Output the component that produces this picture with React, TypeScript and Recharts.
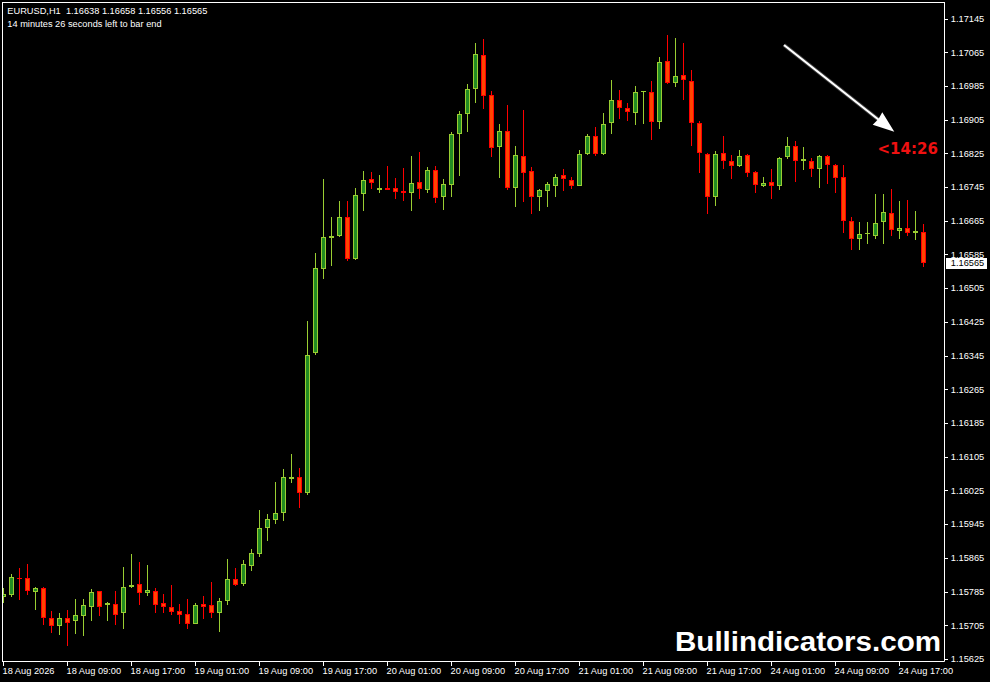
import { BarChart, Bar, XAxis, YAxis } from 'recharts'

// EURUSD H1 candles, oldest first
const opens = [
  1.15772, 1.15778, 1.15817, 1.15817, 1.15785, 1.15793, 1.15722, 1.15704, 1.15722, 1.15714,
  1.15728, 1.15749, 1.15786, 1.15752, 1.15755, 1.15735, 1.15795, 1.15803, 1.15782, 1.15786,
  1.15757, 1.15748, 1.15738, 1.15731, 1.15709, 1.15755, 1.15752, 1.15733, 1.15763, 1.15814,
  1.15804, 1.15846, 1.15875, 1.15937, 1.15956, 1.15972, 1.16053, 1.16056, 1.1602, 1.1635,
  1.1655, 1.16623, 1.1663, 1.16673, 1.16574, 1.16728, 1.16763, 1.16737, 1.16742, 1.16742,
  1.16735, 1.16732, 1.16756, 1.16739, 1.16785, 1.16721, 1.16751, 1.1687, 1.16918, 1.16977,
  1.17058, 1.16963, 1.16841, 1.16877, 1.16743, 1.16818, 1.16782, 1.16722, 1.16736, 1.16748,
  1.16773, 1.16761, 1.16748, 1.16823, 1.16865, 1.16823, 1.16896, 1.16951, 1.16932, 1.1692,
  1.1697, 1.1697, 1.16899, 1.17043, 1.16991, 1.1701, 1.16996, 1.16896, 1.16823, 1.16721,
  1.16825, 1.16806, 1.16794, 1.1682, 1.1678, 1.16747, 1.16756, 1.16747, 1.16816, 1.16842,
  1.16806, 1.16808, 1.16789, 1.16818, 1.16797, 1.16768, 1.16664, 1.16621, 1.16633, 1.1663,
  1.16661, 1.16683, 1.1664, 1.16647, 1.16635, 1.16638,
]
const highs = [
  1.15793, 1.15827, 1.15841, 1.1585, 1.15796, 1.15795, 1.15739, 1.15734, 1.15741, 1.15767,
  1.15767, 1.15791, 1.15787, 1.1576, 1.15786, 1.15843, 1.15874, 1.15855, 1.15848, 1.15793,
  1.15779, 1.15801, 1.15755, 1.15767, 1.15757, 1.15774, 1.15808, 1.1577, 1.15862, 1.15841,
  1.15859, 1.15886, 1.15979, 1.15969, 1.16045, 1.16076, 1.16112, 1.16078, 1.16427, 1.16588,
  1.16764, 1.16674, 1.16712, 1.16712, 1.16742, 1.16783, 1.16781, 1.16774, 1.16795, 1.16766,
  1.1679, 1.16819, 1.16828, 1.16793, 1.16795, 1.16763, 1.16876, 1.16925, 1.16989, 1.17087,
  1.17096, 1.16973, 1.16895, 1.1694, 1.16842, 1.16928, 1.16793, 1.1674, 1.16756, 1.16775,
  1.16787, 1.1677, 1.16832, 1.1687, 1.16887, 1.1692, 1.16998, 1.16975, 1.16944, 1.16984,
  1.16973, 1.16996, 1.17053, 1.17105, 1.17098, 1.17088, 1.17022, 1.16901, 1.16825, 1.1683,
  1.16865, 1.1682, 1.16832, 1.16823, 1.16782, 1.16768, 1.16787, 1.16816, 1.16863, 1.16854,
  1.16839, 1.16813, 1.1682, 1.1682, 1.16799, 1.16797, 1.16673, 1.16661, 1.16661, 1.16728,
  1.16728, 1.1674, 1.16711, 1.16714, 1.16687, 1.16658,
]
const lows = [
  1.15758, 1.15773, 1.15766, 1.15778, 1.15742, 1.15706, 1.15687, 1.15682, 1.15656, 1.15684,
  1.1568, 1.15716, 1.15728, 1.15716, 1.15706, 1.15697, 1.15794, 1.15754, 1.15775, 1.15735,
  1.15733, 1.1573, 1.15709, 1.15697, 1.15708, 1.15721, 1.15723, 1.1569, 1.15754, 1.15799,
  1.15797, 1.15834, 1.15868, 1.15906, 1.15946, 1.15953, 1.16043, 1.15983, 1.16015, 1.16347,
  1.16527, 1.16558, 1.16627, 1.1657, 1.16573, 1.16689, 1.16741, 1.16732, 1.16738, 1.16717,
  1.16713, 1.16689, 1.16717, 1.16732, 1.16706, 1.16691, 1.16722, 1.16772, 1.16876, 1.16945,
  1.16931, 1.16817, 1.16767, 1.16739, 1.16698, 1.1671, 1.16682, 1.16689, 1.16698, 1.16722,
  1.16736, 1.16741, 1.16747, 1.1682, 1.16818, 1.1682, 1.1687, 1.16906, 1.16901, 1.16892,
  1.16894, 1.16856, 1.16882, 1.1699, 1.16982, 1.16951, 1.16842, 1.16778, 1.1668, 1.16699,
  1.16787, 1.16763, 1.16792, 1.16768, 1.1673, 1.16744, 1.16716, 1.16737, 1.16811, 1.16756,
  1.16785, 1.1677, 1.16742, 1.16752, 1.1673, 1.16635, 1.16595, 1.16595, 1.16611, 1.16621,
  1.16609, 1.16628, 1.16621, 1.16628, 1.16619, 1.16556,
]
const closes = [
  1.15779, 1.15819, 1.15816, 1.15786, 1.15793, 1.15723, 1.15704, 1.15722, 1.15711, 1.15729,
  1.15753, 1.15783, 1.15749, 1.15758, 1.1573, 1.15795, 1.15801, 1.15782, 1.15788, 1.15754,
  1.15748, 1.15737, 1.1573, 1.15709, 1.15752, 1.15749, 1.15733, 1.15763, 1.15814, 1.15801,
  1.1585, 1.15876, 1.15935, 1.15957, 1.15971, 1.16056, 1.16056, 1.1602, 1.16346, 1.16554,
  1.16626, 1.16628, 1.16673, 1.16575, 1.16725, 1.16761, 1.16754, 1.16742, 1.16739, 1.16733,
  1.16732, 1.16754, 1.1674, 1.16785, 1.16718, 1.16752, 1.1687, 1.16918, 1.16977, 1.1706,
  1.1696, 1.16837, 1.16877, 1.16743, 1.1682, 1.16779, 1.16722, 1.16737, 1.16752, 1.1677,
  1.16765, 1.16748, 1.16823, 1.16865, 1.16823, 1.16894, 1.16951, 1.16932, 1.16922, 1.1697,
  1.16972, 1.16899, 1.17041, 1.16991, 1.17008, 1.16998, 1.16896, 1.16825, 1.16721, 1.16823,
  1.16808, 1.16794, 1.16818, 1.16778, 1.16749, 1.16754, 1.16747, 1.16813, 1.16842, 1.16806,
  1.16811, 1.16789, 1.16818, 1.16797, 1.16766, 1.16664, 1.16621, 1.16633, 1.16636, 1.16659,
  1.16685, 1.16642, 1.16647, 1.16635, 1.1664, 1.16565,
]

// one label every 8 bars
const timeLabels = [
  '18 Aug 2026', '18 Aug 09:00', '18 Aug 17:00', '19 Aug 01:00', '19 Aug 09:00',
  '19 Aug 17:00', '20 Aug 01:00', '20 Aug 09:00', '20 Aug 17:00', '21 Aug 01:00',
  '21 Aug 09:00', '21 Aug 17:00', '24 Aug 01:00', '24 Aug 09:00', '24 Aug 17:00',
]
const priceTicks = [
  1.17145, 1.17065, 1.16985, 1.16905, 1.16825, 1.16745, 1.16665, 1.16585, 1.16505, 1.16425,
  1.16345, 1.16265, 1.16185, 1.16105, 1.16025, 1.15945, 1.15865, 1.15785, 1.15705, 1.15625,
]

const BULL_WICK = '#9acd32'
const BULL_BODY = '#228b22'
const BEAR_WICK = '#ff0000'
const BEAR_BODY = '#ff4500'
const FONT = "'Liberation Sans', Arial, sans-serif"

const rows = opens.map((open, i) => ({
  idx: i,
  open,
  high: highs[i],
  low: lows[i],
  close: closes[i],
  range: [lows[i], highs[i]],
}))
const lastClose = closes[closes.length - 1]

function Candle(props: any) {
  const { x, y, width, height, payload } = props
  const { open, close, high, low } = payload
  const yHigh = Math.min(y, y + height)
  const yLow = Math.max(y, y + height)
  const span = high - low
  const py = (v: number) => (span > 0 ? yHigh + ((high - v) / span) * (yLow - yHigh) : yHigh)
  const up = close >= open
  const wick = up ? BULL_WICK : BEAR_WICK
  const fill = up ? BULL_BODY : BEAR_BODY
  const top = Math.round(py(Math.max(open, close)))
  const bot = Math.round(py(Math.min(open, close)))
  const hi = Math.round(yHigh)
  const lo = Math.round(yLow)
  const bh = Math.max(bot - top, 1)
  const left = Math.round(x + width / 2 - 2.5)
  return (
    <g shapeRendering="crispEdges">
      <rect x={left + 2} y={hi} width={1} height={Math.max(lo - hi, 1)} fill={wick} />
      <rect x={left} y={top} width={5} height={bh} fill={wick} />
      {bh > 2 && <rect x={left + 1} y={top + 1} width={3} height={bh - 2} fill={fill} />}
    </g>
  )
}

function TimeTick(props: any) {
  const { x, y, payload } = props
  const i = Number(payload.value)
  if (i % 8 !== 0) return <g />
  return (
    <g>
      <line x1={x} x2={x} y1={y} y2={y + 4} stroke="#fff" shapeRendering="crispEdges" />
      <text x={x - 1} y={y + 12} fill="#fff" fontSize={9.25} fontFamily={FONT}>
        {timeLabels[i / 8]}
      </text>
    </g>
  )
}

function PriceTick(props: any) {
  const { x, y, payload } = props
  const v = Number(payload.value)
  if (v === lastClose) {
    const ry = Math.round(y) - 5
    return (
      <g>
        <rect x={x + 1.5} y={ry} width={41} height={11} fill="#fff" shapeRendering="crispEdges" />
        <text x={x + 6.3} y={y + 3.3} fill="#000" fontSize={9.25} fontFamily={FONT}>
          {v.toFixed(5)}
        </text>
      </g>
    )
  }
  const ly = Math.round(y) + 0.5
  return (
    <g>
      <line x1={x} x2={x + 3.5} y1={ly} y2={ly} stroke="#fff" shapeRendering="crispEdges" />
      <text x={x + 6.3} y={y + 3.3} fill="#fff" fontSize={9.25} fontFamily={FONT}>
        {v.toFixed(5)}
      </text>
    </g>
  )
}

export default function App() {
  return (
    <div style={{ position: 'absolute', left: 0, top: 0, width: 990, height: 682, background: '#000' }}>
      <BarChart
        width={990}
        height={682}
        data={rows}
        margin={{ top: 2.5, right: 0, bottom: 0.5, left: -0.5 }}
        barCategoryGap={0}
      >
        <XAxis
          dataKey="idx"
          type="category"
          interval={0}
          height={20}
          padding={{ left: 0, right: 17 }}
          tickLine={false}
          tickSize={0}
          tickMargin={0}
          axisLine={{ stroke: '#fff' }}
          tick={(p: any) => <TimeTick {...p} />}
        />
        <YAxis
          orientation="right"
          type="number"
          domain={[1.15619, 1.17183]}
          allowDataOverflow
          ticks={[...priceTicks, lastClose]}
          interval={0}
          width={45.5}
          tickLine={false}
          tickSize={0}
          tickMargin={0}
          axisLine={{ stroke: '#fff' }}
          tick={(p: any) => <PriceTick {...p} />}
        />
        <Bar dataKey="range" isAnimationActive={false} shape={(p: any) => <Candle {...p} />} />
      </BarChart>

      <svg
        width={990}
        height={682}
        style={{ position: 'absolute', left: 0, top: 0, pointerEvents: 'none' }}
      >
        <rect x={0} y={0} width={2} height={682} fill="#000" />
        <line x1={2.5} y1={2} x2={2.5} y2={662} stroke="#fff" shapeRendering="crispEdges" />
        <line x1={2} y1={2.5} x2={945} y2={2.5} stroke="#fff" shapeRendering="crispEdges" />

        <text x={7.3} y={14} fill="#fff" fontSize={9.25} fontFamily={FONT} style={{ whiteSpace: 'pre' }}>
          {'EURUSD,H1  1.16638 1.16658 1.16556 1.16565'}
        </text>
        <text x={7.3} y={27.3} fill="#fff" fontSize={9.25} fontFamily={FONT}>
          14 minutes 26 seconds left to bar end
        </text>

        <line x1={784} y1={45} x2={879} y2={120} stroke="#777" strokeWidth={4} opacity={0.5} />
        <line x1={784} y1={45} x2={879} y2={120} stroke="#fff" strokeWidth={2.2} />
        <polygon points="894.3,131.7 882.3,112.3 878.5,119 872.7,124.7" fill="#fff" />

        <text
          x={877.5}
          y={154}
          fill="#ee1111"
          fontSize={15}
          fontWeight="bold"
          fontFamily="'DejaVu Sans', sans-serif"
        >
          {'<14:26'}
        </text>

        <text
          x={675}
          y={650.7}
          fill="#fff"
          fontSize={28}
          fontWeight="bold"
          fontFamily={FONT}
          textLength={266}
          lengthAdjust="spacingAndGlyphs"
        >
          Bullindicators.com
        </text>
      </svg>
    </div>
  )
}
